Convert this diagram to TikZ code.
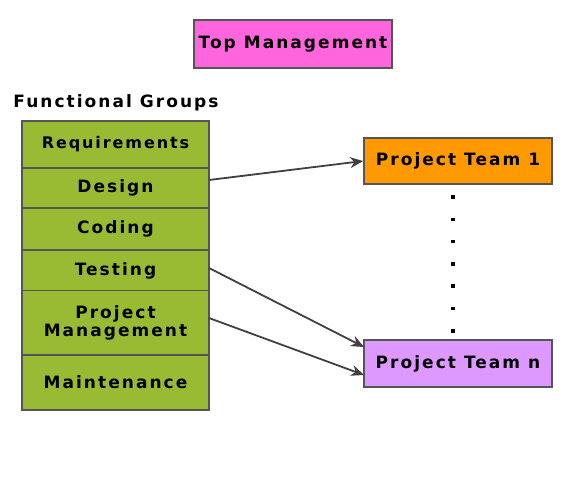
\documentclass[tikz,border=0pt]{standalone}
\usepackage{fontspec}
\setmainfont{DejaVu Sans}
\newfontfamily\boxfont[LetterSpace=12]{DejaVu Sans Bold}
\usetikzlibrary{arrows.meta}
\definecolor{topmag}{HTML}{FF66DD}
\definecolor{grp}{HTML}{99BB33}
\definecolor{teamone}{HTML}{FF9900}
\definecolor{teamn}{HTML}{DD99FF}
\definecolor{edge}{HTML}{555555}
\tikzset{
  boxtext/.style={font=\boxfont\fontsize{17}{18}\selectfont, text=black},
  box/.style={draw=edge, line width=1.8pt, inner sep=0pt, boxtext, align=center},
  grpbox/.style={box, fill=grp, minimum width=187pt},
  link/.style={draw=black!75, line width=1.8pt, -{Stealth[length=13pt,width=11pt]}},
  dot/.style={fill=black, inner sep=0pt, minimum size=3.5pt}
}
\begin{document}
\begin{tikzpicture}[x=1pt,y=-1pt]
\useasboundingbox (0,0) rectangle (578,483);
\node[box, fill=topmag, minimum width=198pt, minimum height=48pt] (top) at (293,44) {Top Management};
\node[boxtext] (fg) at (116,103) {Functional Groups};
\node[grpbox, minimum height=47pt, font=\boxfont\fontsize{16}{18}\selectfont] (req) at (115.5,144.5) {Requirements};
\node[grpbox, minimum height=40pt] (des) at (115.5,188) {Design};
\node[grpbox, minimum height=42pt] (cod) at (115.5,229) {Coding};
\node[grpbox, minimum height=41pt] (tst) at (115.5,270.5) {Testing};
\node[grpbox, minimum height=64pt] (pm) at (115.5,322.5) {Project\\Management};
\node[grpbox, minimum height=55pt] (mnt) at (115.5,382.5) {Maintenance};
\node[box, fill=teamone, minimum width=188pt, minimum height=46pt] (t1) at (458,161) {Project Team 1};
\node[box, fill=teamn, minimum width=188pt, minimum height=47pt] (tn) at (458,363.5) {Project Team n};
\foreach \i in {0,...,6} {
  \node[dot] (d\i) at (453,197+22.3*\i) {};
}
\draw[link] (209,180) -- (t1.west);
\draw[link] (209,268) -- (364,347);
\draw[link] (209,318) -- (364,375);
\end{tikzpicture}
\end{document}
